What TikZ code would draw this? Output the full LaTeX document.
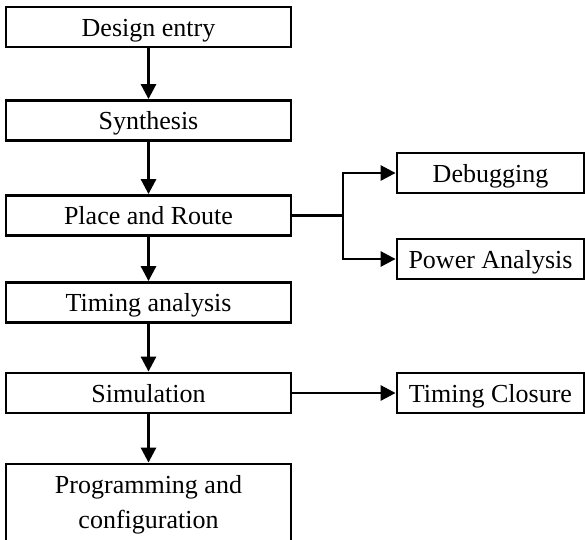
\documentclass[tikz,border=0pt]{standalone}
\usepackage{fontspec}
\setmainfont{Liberation Serif}
\usetikzlibrary{arrows.meta,positioning}
\tikzset{
  bx/.style={rectangle,draw=black,line width=2.8pt,minimum width=285pt,minimum height=40pt,inner sep=0pt,font=\fontsize{26}{35}\selectfont,align=center},
  stage/.style={bx,text height=19pt,text depth=1pt},
  side/.style={stage,minimum width=187pt},
  wire/.style={draw=black,line width=2.8pt},
  flow/.style={wire,-{Triangle[length=15pt,width=15pt]}},
}
\begin{document}
\begin{tikzpicture}[x=1pt,y=-1pt]
\useasboundingbox (0,0) rectangle (585,539);
\clip (0,0) rectangle (585,539);
% -main flow-
\node[stage] (entry) at (148.5,27) {Design entry};
\node[stage] (synth) at (148.5,120.5) {Synthesis};
\node[stage] (pr) at (148.5,215.5) {Place and Route};
\node[stage] (timing) at (148.5,302.5) {Timing analysis};
\node[stage] (sim) at (148.5,393) {Simulation};
\node[bx,minimum height=81pt] (prog) at (148.5,504.5) {Programming and\\configuration};
\draw[flow] (entry) -- (synth);
\draw[flow] (synth) -- (pr);
\draw[flow] (pr) -- (timing);
\draw[flow] (timing) -- (sim);
\draw[flow] (sim) -- (prog);
% -side branches-
\node[side] (dbg) at (490.5,173) {Debugging};
\node[side] (pwr) at (490.5,259) {Power Analysis};
\node[side] (close) at (490.5,393) {Timing Closure};
\coordinate (fork) at (343,215.5);
\draw[wire] (pr.east) -- (fork);
\draw[flow] (fork) |- (dbg.west);
\draw[flow] (fork) |- (pwr.west);
\draw[flow] (sim) -- (close);
\end{tikzpicture}
\end{document}
